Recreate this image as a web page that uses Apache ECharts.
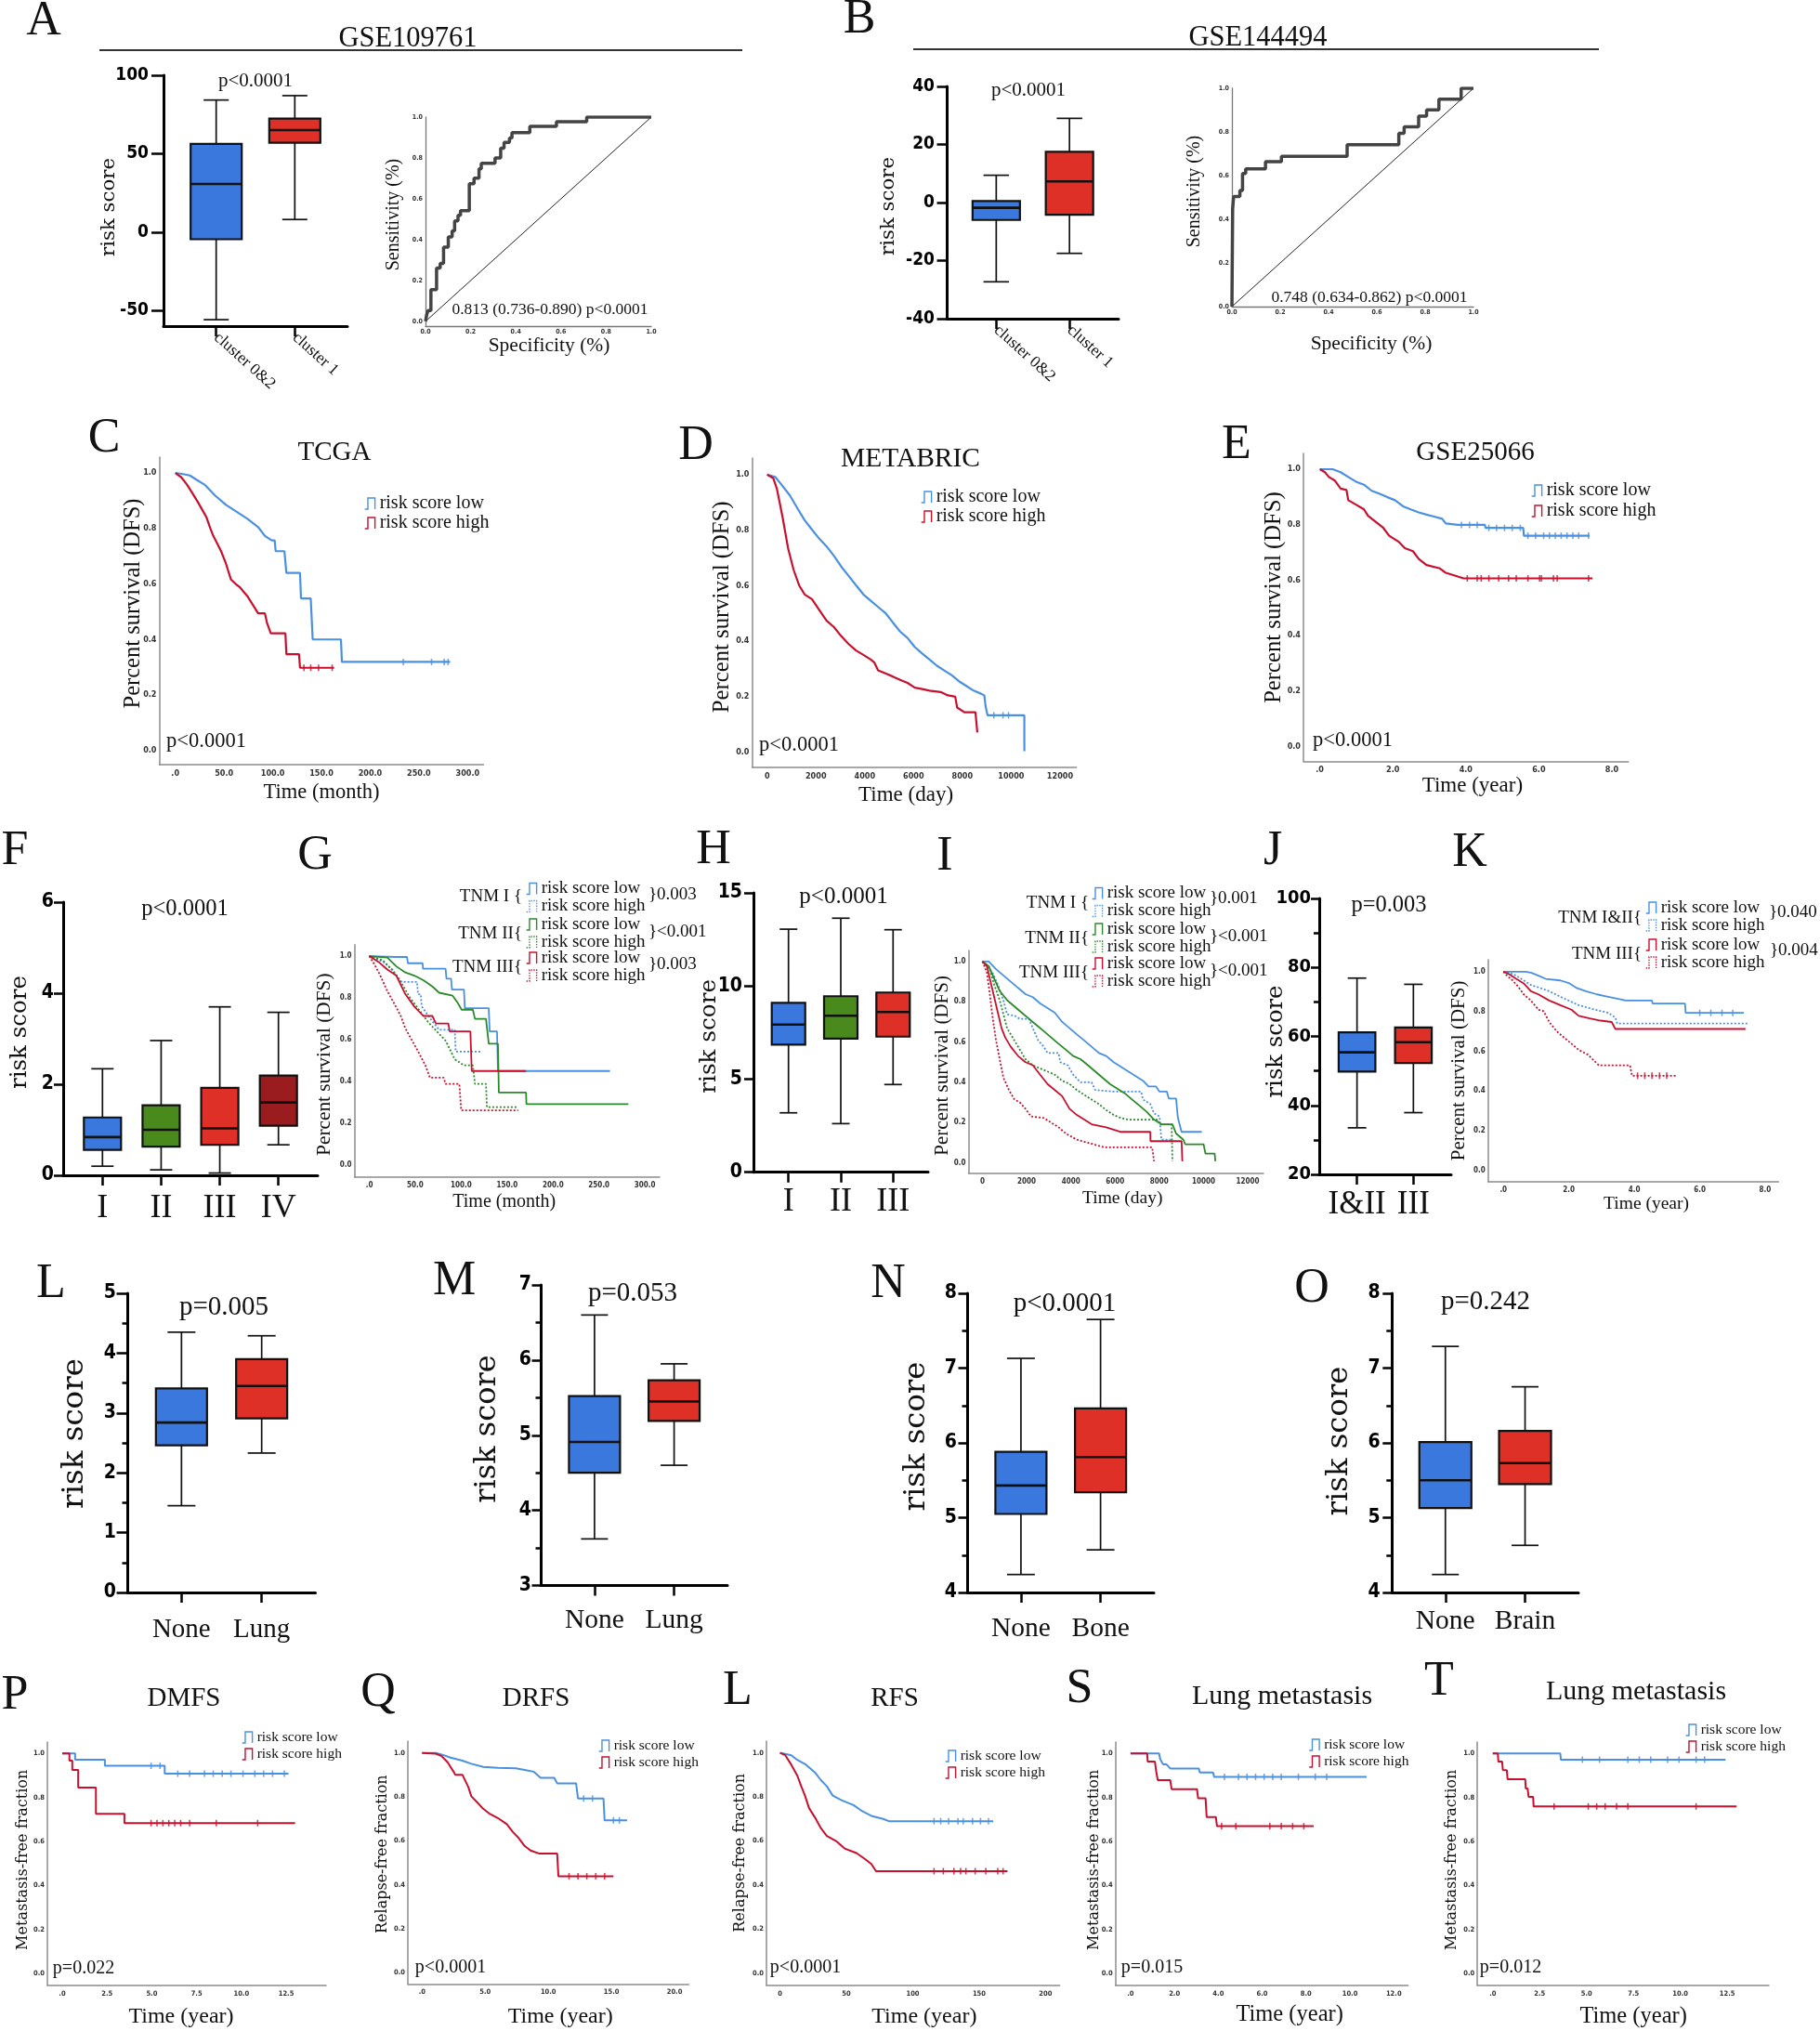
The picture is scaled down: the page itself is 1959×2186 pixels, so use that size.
<!DOCTYPE html>
<html>
<head>
<meta charset="utf-8">
<script src="https://cdn.jsdelivr.net/npm/echarts@6.0.0/dist/echarts.min.js"></script>
<style>html,body{margin:0;padding:0;background:#fff}#c{width:1959px;height:2186px}</style>
</head>
<body>
<div id="c"></div>
<script>
// ================= DATA =================
// Box plots: [min, Q1, median, Q3, max]
const A_categories = ['cluster 0&2', 'cluster 1'];
const A_box = [[-55.9, -4.6, 30.7, 56.2, 84.2], [8.0, 57.0, 65.0, 72.4, 87.0]];
const A_yticks = [-50, 0, 50, 100];
const B_categories = ['cluster 0&2', 'cluster 1'];
const B_box = [[-27.3, -6.0, -1.8, 0.5, 9.4], [-17.5, -4.2, 7.3, 17.5, 29.0]];
const F_categories = ['I', 'II', 'III', 'IV'];
const F_box = [[0.20, 0.56, 0.84, 1.27, 2.34], [0.12, 0.63, 1.00, 1.54, 2.96], [0.05, 0.67, 1.03, 1.92, 3.70], [0.67, 1.09, 1.60, 2.19, 3.58]];
const H_categories = ['I', 'II', 'III'];
const H_box = [[3.19, 6.85, 7.93, 9.10, 13.05], [2.61, 7.17, 8.40, 9.45, 13.64], [4.71, 7.28, 8.60, 9.65, 13.02]];
const J_categories = ['I&II', 'III'];
const J_box = [[33.5, 49.8, 55.4, 61.2, 76.9], [37.9, 52.3, 58.3, 62.6, 75.1]];
const L_categories = ['None', 'Lung'];
const L_box = [[1.45, 2.46, 2.84, 3.41, 4.35], [2.33, 2.91, 3.45, 3.90, 4.29]];
const M_categories = ['None', 'Lung'];
const M_box = [[3.62, 4.50, 4.91, 5.52, 6.60], [4.60, 5.19, 5.45, 5.73, 5.95]];
const N_categories = ['None', 'Bone'];
const N_box = [[4.24, 5.05, 5.43, 5.88, 7.13], [4.57, 5.34, 5.81, 6.46, 7.65]];
const O_categories = ['None', 'Brain'];
const O_box = [[4.24, 5.13, 5.50, 6.01, 7.29], [4.63, 5.45, 5.73, 6.16, 6.75]];

// ROC curves [1-spec, sens]
const A_roc = [[0,0],[0.005,0.03],[0.011,0.053],[0.024,0.155],[0.049,0.261],[0.065,0.284],[0.08,0.364],[0.101,0.413],[0.118,0.443],[0.129,0.492],[0.144,0.519],[0.155,0.542],[0.194,0.674],[0.215,0.701],[0.237,0.747],[0.247,0.774],[0.308,0.8],[0.333,0.848],[0.348,0.876],[0.372,0.898],[0.383,0.924],[0.462,0.954],[0.58,0.977],[0.714,1.0],[1.0,1.0]];
const B_roc = [[0,0],[0.003,0.447],[0.007,0.504],[0.033,0.532],[0.044,0.61],[0.057,0.631],[0.139,0.664],[0.205,0.688],[0.477,0.742],[0.691,0.794],[0.713,0.823],[0.773,0.872],[0.806,0.901],[0.857,0.95],[0.949,1.0],[1.0,1.0]];
const ROC_diagonal = [[0,0],[1,1]];
const ROC_ticks = [0, 0.2, 0.4, 0.6, 0.8, 1.0];

// Kaplan-Meier curves [time, survival]
const C_low = [[0,1],[8,0.996],[15,0.991],[22,0.975],[30,0.958],[41,0.918],[52,0.885],[63,0.86],[74,0.835],[85,0.805],[92,0.773],[99,0.757],[102,0.757],[103,0.718],[112,0.718],[114,0.64],[128,0.64],[129,0.548],[139,0.548],[141,0.40],[170,0.40],[171,0.319],[282,0.319]];
const C_high = [[0,1],[6,0.985],[12,0.958],[17,0.93],[23,0.896],[28,0.865],[32,0.84],[36,0.8],[39,0.773],[47,0.718],[52,0.673],[57,0.617],[62,0.6],[66,0.589],[74,0.556],[81,0.517],[85,0.494],[92,0.494],[94,0.461],[98,0.422],[113,0.422],[114,0.347],[127,0.347],[128,0.298],[163,0.298]];
const D_low = [[0,1],[331,0.992],[632,0.959],[933,0.925],[1235,0.88],[1536,0.836],[1837,0.802],[2138,0.769],[2439,0.741],[2740,0.707],[3041,0.668],[3342,0.635],[3644,0.601],[3945,0.568],[4246,0.545],[4547,0.523],[4848,0.501],[5149,0.467],[5450,0.434],[5751,0.411],[6052,0.378],[6353,0.355],[6655,0.333],[6956,0.311],[7257,0.294],[7558,0.277],[7859,0.255],[8160,0.238],[8461,0.221],[8762,0.21],[8900,0.204],[8950,0.165],[9033,0.132],[10539,0.132],[10540,0.003]];
const D_high = [[0,1],[256,0.987],[406,0.947],[632,0.847],[858,0.735],[1084,0.657],[1310,0.601],[1536,0.568],[1837,0.551],[2138,0.512],[2439,0.473],[2740,0.45],[3041,0.417],[3342,0.389],[3644,0.366],[3945,0.35],[4246,0.333],[4396,0.322],[4547,0.294],[4848,0.283],[5149,0.272],[5450,0.26],[5751,0.249],[6052,0.232],[6353,0.227],[6655,0.221],[7107,0.216],[7408,0.204],[7709,0.199],[7784,0.16],[8085,0.143],[8537,0.143],[8612,0.07]];
const E_low = [[0,1],[0.35,1.0],[0.57,0.989],[0.78,0.972],[0.99,0.955],[1.21,0.944],[1.42,0.922],[1.64,0.911],[1.85,0.899],[2.06,0.888],[2.28,0.866],[2.49,0.855],[2.71,0.844],[2.92,0.836],[3.13,0.829],[3.35,0.821],[3.45,0.804],[3.78,0.799],[4.52,0.799],[4.54,0.788],[5.57,0.788],[5.59,0.76],[7.39,0.76]];
const E_high = [[0,1],[0.14,0.989],[0.25,0.972],[0.41,0.959],[0.57,0.93],[0.73,0.925],[0.78,0.888],[0.99,0.872],[1.21,0.855],[1.32,0.832],[1.53,0.81],[1.74,0.788],[1.9,0.76],[2.17,0.737],[2.33,0.715],[2.55,0.704],[2.71,0.676],[2.92,0.654],[3.29,0.642],[3.45,0.626],[3.94,0.606],[7.47,0.606]];

const G_TNM1_low = [[0,1],[29,0.996],[41,0.996],[42,0.966],[58,0.966],[58.5,0.94],[83,0.94],[84,0.892],[89,0.892],[90,0.84],[103,0.84],[104,0.751],[130,0.751],[131,0.64],[139,0.64],[140,0.451],[262,0.451]];
const G_TNM1_high = [[0,1],[15,0.973],[25,0.936],[35,0.877],[52,0.877],[53,0.818],[56,0.818],[57,0.76],[68,0.692],[76,0.648],[93,0.648],[94,0.544],[122,0.544]];
const G_TNM2_low = [[0,1],[19.6,0.993],[29.4,0.951],[39.2,0.922],[49,0.907],[58.8,0.885],[68.6,0.855],[76,0.825],[90.7,0.811],[95.6,0.781],[100.5,0.744],[112.7,0.744],[115,0.7],[127,0.7],[130,0.581],[140,0.581],[141,0.348],[170.6,0.348],[171,0.293],[282,0.293]];
const G_TNM2_high = [[0,1],[14.7,0.98],[24.5,0.936],[34.3,0.877],[44,0.803],[54,0.744],[64,0.685],[73.5,0.64],[83,0.596],[88,0.552],[93,0.507],[103,0.478],[112.7,0.478],[115,0.389],[127,0.389],[128,0.278],[162,0.278]];
const G_TNM3_low = [[0,1],[9.8,0.973],[19.6,0.936],[29.4,0.907],[39.2,0.818],[49,0.759],[58.8,0.714],[68.6,0.714],[72.5,0.678],[86,0.678],[87.5,0.64],[110,0.64],[111.5,0.451],[170.6,0.451]];
const G_TNM3_high = [[0,1],[4.9,0.966],[12,0.907],[19.6,0.833],[27,0.774],[34.3,0.714],[39.2,0.655],[46.6,0.596],[54,0.537],[61,0.478],[66,0.419],[81,0.419],[83,0.389],[98,0.389],[100,0.263],[162,0.263]];

const I_TNM1_low = [[0,1],[282,1.0],[615,0.962],[947,0.931],[1280,0.9],[1612,0.869],[1945,0.838],[2277,0.823],[2609,0.792],[2942,0.769],[3274,0.746],[3607,0.7],[3939,0.669],[4271,0.638],[4604,0.608],[4936,0.577],[5269,0.546],[5601,0.531],[5933,0.5],[6266,0.477],[6598,0.454],[6931,0.431],[7263,0.408],[7512,0.38],[7845,0.38],[8011,0.354],[8343,0.354],[8426,0.32],[8759,0.32],[8842,0.223],[9008,0.154],[9922,0.154]];
const I_TNM1_high = [[0,1],[449,0.946],[698,0.885],[947,0.808],[1114,0.738],[1446,0.731],[1695,0.715],[2111,0.715],[2277,0.669],[2526,0.608],[2776,0.577],[2942,0.546],[3441,0.546],[3524,0.5],[3856,0.485],[4105,0.438],[4437,0.4],[4936,0.4],[5102,0.362],[5933,0.354],[7180,0.354],[7263,0.315],[7595,0.292],[7761,0.246],[8011,0.231],[8094,0.115],[8593,0.115]];
const I_TNM2_low = [[0,1],[282,0.977],[532,0.915],[781,0.854],[1114,0.808],[1446,0.777],[1778,0.746],[2111,0.715],[2443,0.685],[2776,0.654],[3108,0.623],[3441,0.592],[3773,0.562],[4105,0.531],[4437,0.515],[4770,0.485],[5102,0.454],[5435,0.423],[5767,0.392],[6100,0.369],[6432,0.346],[6765,0.315],[7097,0.285],[7429,0.254],[7761,0.215],[8094,0.192],[8593,0.192],[8759,0.146],[9091,0.115],[9174,0.092],[10005,0.092],[10088,0.046],[10504,0.046],[10537,0.008]];
const I_TNM2_high = [[0,1],[282,0.977],[532,0.885],[781,0.808],[1114,0.669],[1446,0.608],[1612,0.577],[1945,0.515],[2277,0.485],[2609,0.469],[2942,0.454],[3274,0.438],[3607,0.408],[3939,0.392],[4271,0.362],[4604,0.338],[4936,0.315],[5269,0.292],[5601,0.262],[5933,0.238],[6266,0.223],[6598,0.215],[7928,0.215],[8011,0.192],[8560,0.192],[8593,0.008]];
const I_TNM3_low = [[0,1],[199,0.977],[366,0.9],[532,0.823],[698,0.746],[864,0.669],[1030,0.623],[1280,0.577],[1612,0.531],[1945,0.5],[2277,0.485],[2609,0.438],[2942,0.392],[3274,0.362],[3607,0.331],[3939,0.269],[4271,0.238],[4604,0.215],[4936,0.192],[5601,0.177],[6266,0.154],[7595,0.154],[7600,0.108],[9008,0.108],[9041,0.008]];
const I_TNM3_high = [[0,1],[199,0.946],[316,0.854],[449,0.731],[615,0.608],[781,0.515],[947,0.423],[1197,0.362],[1446,0.315],[1695,0.3],[1945,0.269],[2194,0.231],[2776,0.223],[3108,0.2],[3441,0.177],[3773,0.146],[4271,0.115],[4770,0.1],[5518,0.077],[7679,0.077],[7761,0.008]];

const K_TNM12_low = [[0,1],[0.67,1.0],[0.84,0.995],[1.07,0.98],[1.29,0.964],[1.74,0.956],[2.02,0.941],[2.24,0.918],[2.52,0.902],[2.86,0.886],[3.2,0.874],[3.65,0.858],[3.76,0.855],[4.54,0.855],[4.56,0.84],[5.55,0.84],[5.57,0.793],[7.35,0.793]];
const K_TNM12_high = [[0,1],[0.17,0.995],[0.39,0.98],[0.62,0.956],[0.84,0.933],[1.07,0.921],[1.4,0.902],[1.74,0.874],[2.08,0.848],[2.3,0.832],[2.64,0.816],[3.2,0.793],[3.42,0.77],[3.48,0.739],[7.46,0.739]];
const K_TNM3_low = [[0,1],[0.17,0.988],[0.39,0.964],[0.62,0.941],[0.84,0.902],[1.07,0.886],[1.4,0.855],[1.74,0.832],[2.08,0.809],[2.3,0.778],[2.64,0.765],[2.97,0.754],[3.31,0.747],[3.42,0.712],[7.4,0.712]];
const K_TNM3_high = [[0,1],[0.11,0.98],[0.28,0.956],[0.45,0.925],[0.62,0.886],[0.84,0.855],[1.07,0.809],[1.23,0.801],[1.4,0.747],[1.63,0.7],[1.85,0.669],[2.08,0.638],[2.3,0.607],[2.58,0.583],[2.92,0.529],[3.87,0.529],[3.93,0.477],[5.31,0.477]];

const P_low = [[0,1],[0.72,1],[0.72,0.972],[2.38,0.972],[2.38,0.944],[5.72,0.944],[5.72,0.908],[12.63,0.908]];
const P_high = [[0,1],[0.4,1],[0.4,0.968],[0.56,0.968],[0.56,0.925],[0.89,0.925],[0.89,0.845],[1.88,0.845],[1.88,0.725],[3.47,0.725],[3.47,0.683],[13.0,0.683]];
const Q_low = [[0,1],[1.08,1],[1.55,0.993],[2.25,0.979],[3.19,0.965],[3.9,0.951],[4.84,0.937],[6.0,0.932],[7.42,0.93],[8.12,0.923],[8.83,0.915],[9.39,0.887],[10.47,0.887],[10.7,0.862],[12.2,0.862],[12.35,0.793],[14.37,0.793],[14.46,0.693],[16.24,0.693]];
const Q_high = [[0,1],[1.08,0.997],[1.55,0.986],[2.02,0.958],[2.49,0.915],[2.63,0.901],[3.19,0.901],[3.66,0.845],[3.9,0.803],[4.37,0.775],[4.84,0.746],[5.31,0.725],[6.0,0.704],[6.71,0.676],[7.18,0.641],[7.65,0.613],[8.12,0.577],[8.59,0.556],[9.3,0.542],[10.7,0.542],[10.8,0.439],[15.16,0.439]];
const R_low = [[0,1],[8.5,0.989],[13,0.968],[19.6,0.946],[26.3,0.911],[30.8,0.876],[35.3,0.848],[39.7,0.806],[46.4,0.785],[55.4,0.763],[62,0.735],[68.8,0.714],[77.7,0.7],[82,0.69],[160.6,0.69]];
const R_high = [[0,1],[4,0.989],[8.5,0.946],[13,0.897],[16,0.848],[18.8,0.806],[21.9,0.749],[26.3,0.707],[30.8,0.658],[35.3,0.623],[42,0.601],[48.7,0.566],[57.6,0.545],[64.3,0.517],[68.8,0.496],[72.3,0.463],[171.3,0.463]];
const S_low = [[0,1],[1.3,1],[1.35,0.975],[1.42,0.975],[1.48,0.951],[1.63,0.951],[1.81,0.932],[3.11,0.932],[3.16,0.914],[3.76,0.914],[3.81,0.894],[10.76,0.894]];
const S_high = [[0,1],[0.76,1],[0.78,0.963],[1.11,0.963],[1.17,0.918],[1.2,0.918],[1.24,0.879],[1.81,0.879],[1.87,0.838],[3.03,0.838],[3.08,0.796],[3.42,0.796],[3.47,0.711],[3.89,0.711],[3.94,0.669],[8.35,0.669]];
const T_low = [[0,1],[3.6,1],[3.63,0.972],[12.41,0.972]];
const T_high = [[0,1],[0.27,1],[0.3,0.963],[0.5,0.963],[0.54,0.924],[0.75,0.924],[0.79,0.883],[1.73,0.883],[1.76,0.841],[1.86,0.841],[1.91,0.803],[2.15,0.803],[2.18,0.759],[13.0,0.759]];

// Censored observations (tick marks) [time, survival]
const C_low_censor = [[234,0.319],[263,0.319],[276,0.319],[280,0.319]];
const C_high_censor = [[132,0.298],[139,0.298],[147,0.298],[161,0.298]];
const D_low_censor = [[9290,0.132],[9666,0.132],[9892,0.132]];
const E_low_censor = [[3.88,0.799],[4.1,0.799],[4.31,0.799],[4.63,0.788],[4.84,0.788],[5.06,0.788],[5.27,0.788],[5.49,0.788],[5.7,0.76],[5.91,0.76],[6.13,0.76],[6.29,0.76],[6.45,0.76],[6.61,0.76],[6.77,0.76],[6.93,0.76],[7.09,0.76],[7.36,0.76]];
const E_high_censor = [[4.04,0.606],[4.31,0.606],[4.42,0.606],[4.63,0.606],[4.9,0.606],[5.17,0.606],[5.38,0.606],[5.7,0.606],[6.02,0.606],[6.07,0.606],[6.4,0.606],[6.5,0.606],[7.36,0.606]];
const K_low_censor = [[6.0,0.793],[6.34,0.793],[6.68,0.793],[7.01,0.793]];
const K_high_censor = [[4.1,0.477],[4.32,0.477],[4.54,0.477],[4.77,0.477],[4.99,0.477]];
const P_low_censor = [[4.96,0.944],[5.46,0.944],[6.45,0.908],[7.11,0.908],[7.94,0.908],[8.43,0.908],[8.93,0.908],[9.42,0.908],[10.09,0.908],[10.75,0.908],[11.24,0.908],[11.74,0.908],[12.4,0.908]];
const P_high_censor = [[4.96,0.683],[5.29,0.683],[5.62,0.683],[5.95,0.683],[6.28,0.683],[6.61,0.683],[7.11,0.683],[8.6,0.683],[10.91,0.683]];
const Q_low_censor = [[12.8,0.793],[13.5,0.793],[15.16,0.693],[15.63,0.693]];
const Q_high_censor = [[11.64,0.439],[12.35,0.439],[13.05,0.439],[13.76,0.439],[14.46,0.439]];
const R_low_censor = [[116,0.69],[121,0.69],[127,0.69],[134,0.69],[138,0.69],[145,0.69],[151,0.69],[157,0.69]];
const R_high_censor = [[116,0.463],[123,0.463],[131,0.463],[136,0.463],[140,0.463],[147,0.463],[155,0.463],[164,0.463],[168,0.463]];
const S_low_censor = [[4.28,0.894],[4.92,0.894],[5.31,0.894],[5.7,0.894],[6.09,0.894],[6.48,0.894],[6.87,0.894],[7.65,0.894],[8.42,0.894],[8.94,0.894]];
const S_high_censor = [[4.15,0.669],[4.8,0.669],[6.35,0.669],[6.87,0.669],[7.39,0.669],[7.9,0.669]];
const T_low_censor = [[4.78,0.972],[5.69,0.972],[7.2,0.972],[7.81,0.972],[8.42,0.972],[9.32,0.972],[9.93,0.972],[10.84,0.972],[11.29,0.972]];
const T_high_censor = [[3.27,0.759],[5.09,0.759],[5.54,0.759],[5.99,0.759],[6.6,0.759],[7.2,0.759],[10.84,0.759]];

// Tick labels
const KM_yticks = [0, 0.2, 0.4, 0.6, 0.8, 1.0];
const C_xticks = [0, 50, 100, 150, 200, 250, 300];
const D_xticks = [0, 2000, 4000, 6000, 8000, 10000, 12000];
const E_xticks = [0, 2, 4, 6, 8];
const G_xticks = [0, 50, 100, 150, 200, 250, 300];
const I_xticks = [0, 2000, 4000, 6000, 8000, 10000, 12000];
const K_xticks = [0, 2, 4, 6, 8];
const P_xticks = [0, 2.5, 5, 7.5, 10, 12.5];
const Q_xticks = [0, 5, 10, 15, 20];
const R_xticks = [0, 50, 100, 150, 200];
const S_xticks = [0, 2, 4, 6, 8, 10, 12];
const T_xticks = [0, 2.5, 5, 7.5, 10, 12.5];

// ================= STYLE / LAYOUT =================
const SERIF = "'Liberation Serif', 'Times New Roman', serif";
const WIDE = "'DejaVu Serif', serif";
const NARROW = "'Liberation Sans Narrow', 'DejaVu Sans Condensed', 'Liberation Sans', sans-serif";
const BOX_BLUE = '#3b78de', BOX_RED = '#de3026', BOX_GREEN = '#4a8a1c', BOX_DARK = '#9b1c1e';
const KM_BLUE = '#4a90e2', KM_RED = '#c8102e', KM_GREEN = '#2a8a2a';
const AXIS_GRAY = '#8c8c8c';
const STEP_ICON = 'path://M0,12 L3,12 L3,1 L10,1 L10,12';
const dot1 = v => (v === 0 ? '.0' : v.toFixed(1));
const int0 = v => String(v);

const grid = [], xAxis = [], yAxis = [], series = [], legend = [], graphic = [];

function addGrid(r) {
  grid.push({left: r[0], top: r[1], width: r[2], height: r[3], containLabel: false, outerBoundsMode: 'none'});
  return grid.length - 1;
}
function namePad(shift) { return shift >= 0 ? [0, 0, 0, 2 * shift] : [0, -2 * shift, 0, 0]; }

function boxRender(colors, bw, cw) {
  return function (params, api) {
    const i = api.value(0);
    const pMin = api.coord([i, api.value(1)]);
    const pQ1 = api.coord([i, api.value(2)]);
    const pMed = api.coord([i, api.value(3)]);
    const pQ3 = api.coord([i, api.value(4)]);
    const pMax = api.coord([i, api.value(5)]);
    const x = pMed[0];
    const ls = {stroke: '#111', lineWidth: 1.7};
    return {type: 'group', children: [
      {type: 'line', shape: {x1: x, y1: pMax[1], x2: x, y2: pQ3[1]}, style: ls},
      {type: 'line', shape: {x1: x, y1: pQ1[1], x2: x, y2: pMin[1]}, style: ls},
      {type: 'line', shape: {x1: x - cw / 2, y1: pMax[1], x2: x + cw / 2, y2: pMax[1]}, style: ls},
      {type: 'line', shape: {x1: x - cw / 2, y1: pMin[1], x2: x + cw / 2, y2: pMin[1]}, style: ls},
      {type: 'rect', shape: {x: x - bw / 2, y: pQ3[1], width: bw, height: pQ1[1] - pQ3[1]}, style: {fill: colors[params.dataIndex], stroke: '#111', lineWidth: 2.2}},
      {type: 'line', shape: {x1: x - bw / 2, y1: pMed[1], x2: x + bw / 2, y2: pMed[1]}, style: {stroke: '#111', lineWidth: 2.6}}
    ]};
  };
}

function boxPanel(o) {
  const gi = addGrid(o.rect);
  const xi = xAxis.length, yi = yAxis.length;
  const idx = o.cats.map((c, i) => i);
  const pad = o.pad || 0.67;
  xAxis.push({type: 'value', gridIndex: gi, min: -pad, max: o.cats.length - 1 + pad,
    axisLine: {show: true, onZero: false, lineStyle: {color: '#000', width: 3}},
    axisTick: {show: true, customValues: idx, length: o.xTick || 11, lineStyle: {color: '#000', width: 2.5}},
    axisLabel: {customValues: idx, formatter: v => o.cats[Math.round(v)], rotate: o.rot || 0, margin: o.catMargin, fontFamily: SERIF, fontSize: o.catFont, color: '#111'},
    splitLine: {show: false}});
  const yl = {margin: o.labMargin, fontFamily: NARROW, fontWeight: 'bold', fontSize: o.labFont, color: '#000'};
  const yt = {show: true, length: o.yTick, lineStyle: {color: '#000', width: 2.5}};
  if (o.ticks) { yl.customValues = o.ticks; yt.customValues = o.ticks; }
  const ya = {type: 'value', gridIndex: gi, min: o.min, max: o.max,
    name: 'risk score', nameLocation: 'middle', nameRotate: 90, nameGap: o.nameGap, nameMoveOverlap: false,
    nameTextStyle: {fontFamily: WIDE, fontSize: o.nameFont, color: '#111', padding: namePad(o.nameShift || 0)},
    axisLine: {show: true, onZero: false, lineStyle: {color: '#000', width: 3}},
    axisTick: yt,
    minorTick: {show: !!o.minor, splitNumber: 2, length: 6, lineStyle: {color: '#000', width: 2.5}},
    axisLabel: yl, splitLine: {show: false}, minorSplitLine: {show: false}};
  if (o.interval) ya.interval = o.interval;
  yAxis.push(ya);
  series.push({type: 'custom', name: o.id + ' risk score', xAxisIndex: xi, yAxisIndex: yi,
    data: o.vals.map((v, i) => [i].concat(v)), encode: {x: 0, y: [1, 2, 3, 4, 5]},
    renderItem: boxRender(o.colors, o.boxW, o.capW), silent: true, z: 3});
}

function kmPanel(o) {
  const gi = addGrid(o.rect);
  const xi = xAxis.length, yi = yAxis.length;
  xAxis.push({type: 'value', gridIndex: gi, min: o.xr[0], max: o.xr[1],
    name: o.xname, nameLocation: 'middle', nameGap: o.xGap, nameMoveOverlap: false,
    nameTextStyle: {fontFamily: SERIF, fontSize: o.xFont, color: '#111', padding: namePad(o.xShift || 0)},
    axisLine: {show: true, onZero: false, lineStyle: {color: AXIS_GRAY, width: 1.5}},
    axisTick: {show: false},
    axisLabel: {customValues: o.xticks, formatter: o.xfmt, margin: o.xlm || 5, fontFamily: NARROW, fontWeight: 'bold', fontSize: o.tf, color: '#333'},
    splitLine: {show: false}});
  yAxis.push({type: 'value', gridIndex: gi, min: o.yr[0], max: o.yr[1],
    name: o.yname, nameLocation: 'middle', nameRotate: 90, nameGap: o.yGap, nameMoveOverlap: false,
    nameTextStyle: {fontFamily: o.yFam || SERIF, fontSize: o.yFont, color: '#111', padding: namePad(o.yShift || 0)},
    axisLine: {show: true, onZero: false, lineStyle: {color: AXIS_GRAY, width: 1.5}},
    axisTick: {show: false},
    axisLabel: {customValues: KM_yticks, formatter: v => v.toFixed(1), margin: o.ylm || 3, fontFamily: NARROW, fontWeight: 'bold', fontSize: o.tf, color: '#333'},
    splitLine: {show: false}});
  o.curves.forEach(c => {
    series.push({type: 'line', name: c.name, xAxisIndex: xi, yAxisIndex: yi, data: c.data,
      symbol: 'none', showSymbol: false, silent: true,
      lineStyle: {color: c.color, width: c.w || 2.2, type: c.dash ? [2, 2] : 'solid'}, itemStyle: {color: c.color}, z: 2});
    if (c.censor) series.push({type: 'scatter', name: c.name + ' censored', xAxisIndex: xi, yAxisIndex: yi, data: c.censor,
      symbol: 'rect', symbolSize: [1.6, 7], silent: true, itemStyle: {color: c.color}, z: 3});
  });
}

function rocPanel(o) {
  const gi = addGrid(o.rect);
  const xi = xAxis.length, yi = yAxis.length;
  xAxis.push({type: 'value', gridIndex: gi, min: 0, max: 1,
    name: 'Specificity (%)', nameLocation: 'middle', nameGap: o.xGap, nameMoveOverlap: false,
    nameTextStyle: {fontFamily: SERIF, fontSize: 21.5, color: '#111', padding: namePad(o.xShift)},
    axisLine: {show: true, onZero: false, lineStyle: {color: '#777', width: 1.3}},
    axisTick: {show: false},
    axisLabel: {customValues: ROC_ticks, formatter: v => v.toFixed(1), margin: 3, fontFamily: NARROW, fontWeight: 'bold', fontSize: 7, color: '#333'},
    splitLine: {show: false}});
  yAxis.push({type: 'value', gridIndex: gi, min: o.ymin, max: 1,
    name: 'Sensitivity (%)', nameLocation: 'middle', nameRotate: 90, nameGap: o.yGap, nameMoveOverlap: false,
    nameTextStyle: {fontFamily: SERIF, fontSize: 20, color: '#111', padding: namePad(o.yShift)},
    axisLine: {show: true, onZero: false, lineStyle: {color: '#777', width: 1.3}},
    axisTick: {show: false},
    axisLabel: {customValues: ROC_ticks, formatter: v => v.toFixed(1), margin: 3, fontFamily: NARROW, fontWeight: 'bold', fontSize: 7, color: '#333'},
    splitLine: {show: false}});
  series.push({type: 'line', name: o.id + ' reference', xAxisIndex: xi, yAxisIndex: yi, data: ROC_diagonal, symbol: 'none', silent: true, lineStyle: {color: '#222', width: 1}});
  series.push({type: 'line', name: o.id + ' ROC', xAxisIndex: xi, yAxisIndex: yi, data: o.roc, step: 'end', symbol: 'none', silent: true, lineStyle: {color: '#444', width: 3.5}});
}

function addLegend(left, top, items, font, lh) {
  legend.push({show: true, left: left, top: top, orient: 'vertical', padding: 0, itemGap: 0, itemWidth: 11, itemHeight: 12, selectedMode: false,
    formatter: n => n.split('|').pop(),
    textStyle: {fontFamily: SERIF, fontSize: font, lineHeight: lh, color: '#111'},
    data: items.map(it => ({name: it.name, icon: STEP_ICON,
      itemStyle: {color: 'rgba(0,0,0,0)', borderColor: it.color, borderWidth: 1.4, borderType: it.dash ? 'dotted' : 'solid'}}))});
}

function txt(s, x, y, size, fam, extra) {
  graphic.push({type: 'text', x: x, y: y, silent: true,
    style: Object.assign({text: s, fontSize: size, fontFamily: fam || SERIF, fill: '#111', align: 'center', verticalAlign: 'middle'}, extra || {})});
}

// ================= PANELS =================
// Row 1
boxPanel({id: 'A', rect: [176, 81, 198, 270], cats: A_categories, vals: A_box, min: -60, max: 100, ticks: A_yticks,
  colors: [BOX_BLUE, BOX_RED], boxW: 55, capW: 27, rot: -42, catFont: 17.5, catMargin: 10, labFont: 19, labMargin: 16, yTick: 13,
  nameGap: 48, nameFont: 21.3, nameShift: -7});
rocPanel({id: 'A', rect: [458, 126, 243, 225], roc: A_roc, ymin: -0.023, yGap: 24.5, yShift: 7.5, xGap: 10, xShift: 11.5});
boxPanel({id: 'B', rect: [1019.5, 93, 184.5, 250], cats: B_categories, vals: B_box, min: -40, max: 40, interval: 20,
  colors: [BOX_BLUE, BOX_RED], boxW: 51, capW: 27.5, rot: -42, catFont: 17.5, catMargin: 10, labFont: 19, labMargin: 13.5, yTick: 11,
  nameGap: 52.9, nameFont: 21.3, nameShift: -4});
rocPanel({id: 'B', rect: [1326, 95, 260, 235], roc: B_roc, ymin: 0, yGap: 30, yShift: 6.5, xGap: 29, xShift: 20});

// Row 2
kmPanel({rect: [171.5, 492, 349, 331], xr: [-16.4, 316.4], yr: [-0.051, 1.057], xticks: C_xticks, xfmt: dot1,
  xname: 'Time (month)', xFont: 22.5, xGap: 18.7, xShift: 0, yname: 'Percent survival (DFS)', yFont: 24.5, yGap: 15.5, yShift: 8, tf: 9,
  curves: [{name: 'C|risk score low', data: C_low, color: KM_BLUE, censor: C_low_censor}, {name: 'C|risk score high', data: C_high, color: KM_RED, censor: C_high_censor}]});
addLegend(392, 531.5, [{name: 'C|risk score low', color: KM_BLUE}, {name: 'C|risk score high', color: KM_RED}], 20, 21);
kmPanel({rect: [809.5, 493, 349.2, 332.7], xr: [-617, 12676], yr: [-0.055, 1.06], xticks: D_xticks, xfmt: int0,
  xname: 'Time (day)', xFont: 23, xGap: 18.8, xShift: -9, yname: 'Percent survival (DFS)', yFont: 24.7, yGap: 19.5, yShift: 6, tf: 9,
  curves: [{name: 'D|risk score low', data: D_low, color: KM_BLUE, censor: D_low_censor}, {name: 'D|risk score high', data: D_high, color: KM_RED}]});
addLegend(991, 524.5, [{name: 'D|risk score low', color: KM_BLUE}, {name: 'D|risk score high', color: KM_RED}], 20, 21);
kmPanel({rect: [1403, 488, 349.7, 331.3], xr: [-0.448, 8.45], yr: [-0.054, 1.057], xticks: E_xticks, xfmt: dot1,
  xname: 'Time (year)', xFont: 23, xGap: 15.2, xShift: 7, yname: 'Percent survival (DFS)', yFont: 24.7, yGap: 18.5, yShift: 10.6, tf: 9,
  curves: [{name: 'E|risk score low', data: E_low, color: KM_BLUE, censor: E_low_censor}, {name: 'E|risk score high', data: E_high, color: KM_RED, censor: E_high_censor}]});
addLegend(1648, 517, [{name: 'E|risk score low', color: KM_BLUE}, {name: 'E|risk score high', color: KM_RED}], 20, 22);

// Row 3
boxPanel({id: 'F', rect: [68, 971, 274, 294], cats: F_categories, vals: F_box, min: 0, max: 6, interval: 2,
  colors: [BOX_BLUE, BOX_GREEN, BOX_RED, BOX_DARK], boxW: 40, capW: 24, catFont: 36, catMargin: 18, labFont: 21, labMargin: 10, yTick: 10,
  nameGap: 33.6, nameFont: 24.5, nameShift: 7});
kmPanel({rect: [381.5, 1016.7, 328.5, 250], xr: [-16.2, 316], yr: [-0.055, 1.055], xticks: G_xticks, xfmt: dot1,
  xname: 'Time (month)', xFont: 20, xGap: 17.3, xShift: -3, yname: 'Percent survival (DFS)', yFont: 21.3, yGap: 21.5, yShift: -4, tf: 8,
  curves: [
    {name: 'G|TNM I|risk score low', data: G_TNM1_low, color: KM_BLUE, w: 1.8},
    {name: 'G|TNM I|risk score high', data: G_TNM1_high, color: KM_BLUE, w: 1.8, dash: true},
    {name: 'G|TNM II|risk score low', data: G_TNM2_low, color: KM_GREEN, w: 1.8},
    {name: 'G|TNM II|risk score high', data: G_TNM2_high, color: KM_GREEN, w: 1.8, dash: true},
    {name: 'G|TNM III|risk score low', data: G_TNM3_low, color: KM_RED, w: 1.8},
    {name: 'G|TNM III|risk score high', data: G_TNM3_high, color: KM_RED, w: 1.8, dash: true}]});
addLegend(566, 947, [{name: 'G|TNM I|risk score low', color: KM_BLUE}, {name: 'G|TNM I|risk score high', color: KM_BLUE, dash: true}], 19, 17);
addLegend(566, 985.5, [{name: 'G|TNM II|risk score low', color: KM_GREEN}, {name: 'G|TNM II|risk score high', color: KM_GREEN, dash: true}], 19, 17);
addLegend(566, 1021.5, [{name: 'G|TNM III|risk score low', color: KM_RED}, {name: 'G|TNM III|risk score high', color: KM_RED, dash: true}], 19, 17);
boxPanel({id: 'H', rect: [811, 961, 188, 300.7], cats: H_categories, vals: H_box, min: 0, max: 15, interval: 5,
  colors: [BOX_BLUE, BOX_GREEN, BOX_RED], boxW: 36, capW: 19, catFont: 36, catMargin: 14.3, labFont: 21, labMargin: 12, yTick: 10,
  nameGap: 34.6, nameFont: 24.7, nameShift: -4});
kmPanel({rect: [1042.5, 1023, 317.5, 239.7], xr: [-630, 12714], yr: [-0.051, 1.055], xticks: I_xticks, xfmt: int0,
  xname: 'Time (day)', xFont: 19.5, xGap: 17.5, xShift: 7, yname: 'Percent survival (DFS)', yFont: 21, yGap: 17.5, yShift: -4, tf: 8,
  curves: [
    {name: 'I|TNM I|risk score low', data: I_TNM1_low, color: KM_BLUE, w: 1.8},
    {name: 'I|TNM I|risk score high', data: I_TNM1_high, color: KM_BLUE, w: 1.8, dash: true},
    {name: 'I|TNM II|risk score low', data: I_TNM2_low, color: KM_GREEN, w: 1.8},
    {name: 'I|TNM II|risk score high', data: I_TNM2_high, color: KM_GREEN, w: 1.8, dash: true},
    {name: 'I|TNM III|risk score low', data: I_TNM3_low, color: KM_RED, w: 1.8},
    {name: 'I|TNM III|risk score high', data: I_TNM3_high, color: KM_RED, w: 1.8, dash: true}]});
addLegend(1175, 952, [{name: 'I|TNM I|risk score low', color: KM_BLUE}, {name: 'I|TNM I|risk score high', color: KM_BLUE, dash: true}], 19, 17);
addLegend(1175, 990.5, [{name: 'I|TNM II|risk score low', color: KM_GREEN}, {name: 'I|TNM II|risk score high', color: KM_GREEN, dash: true}], 19, 17);
addLegend(1175, 1027.5, [{name: 'I|TNM III|risk score low', color: KM_RED}, {name: 'I|TNM III|risk score high', color: KM_RED, dash: true}], 19, 17);
boxPanel({id: 'J', rect: [1420, 967, 142, 297], cats: J_categories, vals: J_box, min: 20, max: 100, interval: 20, minor: true,
  colors: [BOX_BLUE, BOX_RED], boxW: 39.5, capW: 20, catFont: 35, catMargin: 15.5, labFont: 20, labMargin: 9, yTick: 9,
  nameGap: 33.9, nameFont: 24.3, nameShift: -5.5});
kmPanel({rect: [1601.7, 1033, 312.7, 238.7], xr: [-0.47, 8.41], yr: [-0.055, 1.06], xticks: K_xticks, xfmt: dot1,
  xname: 'Time (year)', xFont: 19.5, xGap: 14.5, xShift: 14, yname: 'Percent survival (DFS)', yFont: 21, yGap: 21, yShift: 0, tf: 8,
  curves: [
    {name: 'K|TNM I&II|risk score low', data: K_TNM12_low, color: KM_BLUE, w: 1.8, censor: K_low_censor},
    {name: 'K|TNM I&II|risk score high', data: K_TNM12_high, color: KM_BLUE, w: 1.8, dash: true},
    {name: 'K|TNM III|risk score low', data: K_TNM3_low, color: KM_RED, w: 1.8},
    {name: 'K|TNM III|risk score high', data: K_TNM3_high, color: KM_RED, w: 1.8, dash: true, censor: K_high_censor}]});
addLegend(1771, 967.5, [{name: 'K|TNM I&II|risk score low', color: KM_BLUE}, {name: 'K|TNM I&II|risk score high', color: KM_BLUE, dash: true}], 19, 17);
addLegend(1771, 1007.5, [{name: 'K|TNM III|risk score low', color: KM_RED}, {name: 'K|TNM III|risk score high', color: KM_RED, dash: true}], 19, 17);

// Row 4
boxPanel({id: 'L', rect: [137.5, 1392, 202, 322], cats: L_categories, vals: L_box, min: 0, max: 5, interval: 1, minor: true,
  colors: [BOX_BLUE, BOX_RED], boxW: 55, capW: 30, catFont: 29, catMargin: 26, labFont: 21, labMargin: 12.5, yTick: 12,
  nameGap: 40.3, nameFont: 32.5, nameShift: 10});
boxPanel({id: 'M', rect: [582.5, 1383, 200.5, 323.5], cats: M_categories, vals: M_box, min: 3, max: 7, interval: 1, minor: true,
  colors: [BOX_BLUE, BOX_RED], boxW: 55, capW: 29, catFont: 29.5, catMargin: 23, labFont: 21, labMargin: 10.5, yTick: 10,
  nameGap: 41.5, nameFont: 32, nameShift: 6.7});
boxPanel({id: 'N', rect: [1041.5, 1392, 200.5, 322], cats: N_categories, vals: N_box, min: 4, max: 8, interval: 1, minor: true,
  colors: [BOX_BLUE, BOX_RED], boxW: 55, capW: 30, catFont: 29.5, catMargin: 24, labFont: 21, labMargin: 11.5, yTick: 10,
  nameGap: 38.4, nameFont: 32.3, nameShift: 7});
boxPanel({id: 'O', rect: [1498.3, 1392, 200.7, 322], cats: O_categories, vals: O_box, min: 4, max: 8, interval: 1, minor: true,
  colors: [BOX_BLUE, BOX_RED], boxW: 56, capW: 29, catFont: 29.5, catMargin: 16.5, labFont: 21, labMargin: 12.7, yTick: 10,
  nameGap: 40.2, nameFont: 32.3, nameShift: 2});

// Row 5
kmPanel({rect: [51, 1875, 300, 261.7], xr: [-0.83, 14.73], yr: [-0.054, 1.052], xticks: P_xticks, xfmt: dot1,
  xname: 'Time (year)', xFont: 24, xGap: 22.3, xShift: -6, yname: 'Metastasis-free fraction', yFam: WIDE, yFont: 16, yGap: 18.5, yShift: 4, tf: 7.5,
  curves: [{name: 'P|risk score low', data: P_low, color: KM_BLUE, w: 2, censor: P_low_censor}, {name: 'P|risk score high', data: P_high, color: KM_RED, w: 2, censor: P_high_censor}]});
addLegend(260, 1861, [{name: 'P|risk score low', color: KM_BLUE}, {name: 'P|risk score high', color: KM_RED}], 15.5, 18);
kmPanel({rect: [439, 1874, 302.4, 261.3], xr: [-1.13, 21.13], yr: [-0.051, 1.054], xticks: Q_xticks, xfmt: dot1,
  xname: 'Time (year)', xFont: 24, xGap: 23.7, xShift: 13, yname: 'Relapse-free fraction', yFam: WIDE, yFont: 16, yGap: 19, yShift: 9, tf: 7.5,
  curves: [{name: 'Q|risk score low', data: Q_low, color: KM_BLUE, w: 2, censor: Q_low_censor}, {name: 'Q|risk score high', data: Q_high, color: KM_RED, w: 2, censor: Q_high_censor}]});
addLegend(644, 1870, [{name: 'Q|risk score low', color: KM_BLUE}, {name: 'Q|risk score high', color: KM_RED}], 15.5, 18);
kmPanel({rect: [825, 1874, 315.7, 262.7], xr: [-10.2, 210.7], yr: [-0.054, 1.053], xticks: R_xticks, xfmt: int0,
  xname: 'Time (year)', xFont: 24, xGap: 22.3, xShift: 12, yname: 'Relapse-free fraction', yFam: WIDE, yFont: 16, yGap: 20, yShift: 11, tf: 7.5,
  curves: [{name: 'R|risk score low', data: R_low, color: KM_BLUE, w: 2, censor: R_low_censor}, {name: 'R|risk score high', data: R_high, color: KM_RED, w: 2, censor: R_high_censor}]});
addLegend(1017, 1881, [{name: 'R|risk score low', color: KM_BLUE}, {name: 'R|risk score high', color: KM_RED}], 15.5, 18);
kmPanel({rect: [1200.6, 1875, 315, 261.7], xr: [-0.69, 12.65], yr: [-0.054, 1.052], xticks: S_xticks, xfmt: dot1,
  xname: 'Time (year)', xFont: 24.5, xGap: 19, xShift: 30, yname: 'Metastasis-free fraction', yFam: WIDE, yFont: 16, yGap: 14.6, yShift: 4, tf: 7.5,
  curves: [{name: 'S|risk score low', data: S_low, color: KM_BLUE, w: 2, censor: S_low_censor}, {name: 'S|risk score high', data: S_high, color: KM_RED, w: 2, censor: S_high_censor}]});
addLegend(1408.5, 1869, [{name: 'S|risk score low', color: KM_BLUE}, {name: 'S|risk score high', color: KM_RED}], 15.5, 18);
kmPanel({rect: [1590.2, 1875, 313.8, 261.7], xr: [-0.82, 14.72], yr: [-0.054, 1.052], xticks: T_xticks, xfmt: dot1,
  xname: 'Time (year)', xFont: 24.5, xGap: 21, xShift: 11, yname: 'Metastasis-free fraction', yFam: WIDE, yFont: 16, yGap: 19.7, yShift: 4, tf: 7.5,
  curves: [{name: 'T|risk score low', data: T_low, color: KM_BLUE, w: 2, censor: T_low_censor}, {name: 'T|risk score high', data: T_high, color: KM_RED, w: 2, censor: T_high_censor}]});
addLegend(1814, 1853, [{name: 'T|risk score low', color: KM_BLUE}, {name: 'T|risk score high', color: KM_RED}], 15.5, 18);

// ================= TEXT =================
[['A',47,23],['B',925,21],['C',112,472],['D',749,480],['E',1331,479],['F',16,916],['G',339,921],['H',768,915],
 ['I',1017,922],['J',1370,916],['K',1582,918],['L',55,1382],['M',489,1379],['N',956,1382],['O',1412,1387],
 ['P',16,1825],['Q',407,1822],['L',794,1820],['S',1162,1818],['T',1549,1810]].forEach(t => txt(t[0], t[1], t[2], 52));
[['GSE109761',439,42,30.5],['GSE144494',1354,41,30.5],['TCGA',360,487,29],['METABRIC',980,494,29.5],['GSE25066',1588,487,29],
 ['DMFS',198,1828,29],['DRFS',577,1828,29],['RFS',963,1828,29],['Lung metastasis',1380,1826,30],['Lung metastasis',1761,1821,30]].forEach(t => txt(t[0], t[1], t[2], t[3]));
graphic.push({type: 'line', silent: true, shape: {x1: 107, y1: 54, x2: 799, y2: 54}, style: {stroke: '#333', lineWidth: 2}});
graphic.push({type: 'line', silent: true, shape: {x1: 983, y1: 53, x2: 1721, y2: 53}, style: {stroke: '#333', lineWidth: 2}});
// p-values
txt('p<0.0001', 275, 87, 21); txt('p<0.0001', 1107, 97, 21);
txt('0.813 (0.736-0.890) p<0.0001', 592, 333, 17.5); txt('0.748 (0.634-0.862) p<0.0001', 1474, 320, 17.5);
txt('p<0.0001', 222, 798, 22.5); txt('p<0.0001', 860, 802, 22.5); txt('p<0.0001', 1456, 797, 22.5);
txt('p<0.0001', 199, 979, 24.5); txt('p<0.0001', 908, 965, 25); txt('p=0.003', 1495, 975, 24.5);
txt('p=0.005', 241, 1407, 29); txt('p=0.053', 681, 1392, 29); txt('p<0.0001', 1146, 1403, 29); txt('p=0.242', 1599, 1401, 29);
txt('p=0.022', 90, 2119, 20); txt('p<0.0001', 485, 2118, 20); txt('p<0.0001', 867, 2118, 20); txt('p=0.015', 1240, 2118, 20); txt('p=0.012', 1626, 2118, 20);
// TNM legend braces
const R = {align: 'right'}, Lft = {align: 'left'};
txt('TNM I {', 562, 965, 19, SERIF, R); txt('}0.003', 698, 963, 19, SERIF, Lft);
txt('TNM II{', 562, 1005, 19, SERIF, R); txt('}<0.001', 698, 1003, 19, SERIF, Lft);
txt('TNM III{', 562, 1041, 19, SERIF, R); txt('}0.003', 698, 1038, 19, SERIF, Lft);
txt('TNM I {', 1172, 972, 19, SERIF, R); txt('}0.001', 1302, 967, 19, SERIF, Lft);
txt('TNM II{', 1172, 1010, 19, SERIF, R); txt('}<0.001', 1302, 1008, 19, SERIF, Lft);
txt('TNM III{', 1172, 1047, 19, SERIF, R); txt('}<0.001', 1302, 1045, 19, SERIF, Lft);
txt('TNM I&II{', 1767, 988, 19, SERIF, R); txt('}0.040', 1904, 982, 19, SERIF, Lft);
txt('TNM III{', 1767, 1027, 19, SERIF, R); txt('}0.004', 1905, 1023, 19, SERIF, Lft);

const chart = echarts.init(document.getElementById('c'), null, {renderer: 'canvas', width: 1959, height: 2186});
chart.setOption({
  animation: false,
  backgroundColor: '#ffffff',
  textStyle: {fontFamily: SERIF},
  grid: grid, xAxis: xAxis, yAxis: yAxis, series: series, legend: legend, graphic: graphic
});
</script>
</body>
</html>
